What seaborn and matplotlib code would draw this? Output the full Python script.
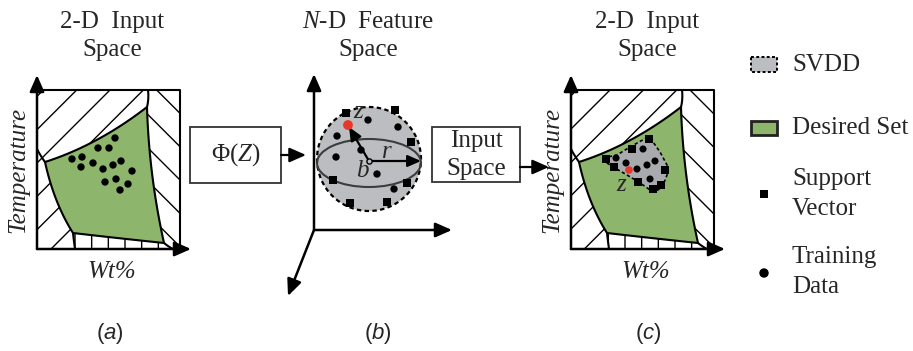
import numpy as np
import pandas as pd
import matplotlib
matplotlib.use("Agg")
import matplotlib.pyplot as plt
from matplotlib.patches import Polygon, Circle, Ellipse, Rectangle
import seaborn as sns

sns.set_theme(style="white")
plt.rcParams["font.family"] = ["Liberation Serif", "DejaVu Serif"]
plt.rcParams["mathtext.fontset"] = "custom"
plt.rcParams["mathtext.rm"] = "Liberation Serif"
plt.rcParams["mathtext.it"] = "Liberation Serif:italic"
plt.rcParams["mathtext.sf"] = "Liberation Sans:italic"
plt.rcParams["hatch.linewidth"] = 1.0

# ---- data -------------------------------------------------------------
panel_titles = [("2-D  Input", "Space"), (r"$\mathit{N}$-D  Feature", "Space"), ("2-D  Input", "Space")]
panel_tags = ["a", "b", "c"]
legend_labels = ["SVDD", "Desired Set", "Support\nVector", "Training\nData"]

# training data in the input space (panel a)
train_a_x = [72, 82, 81, 93, 98, 109, 115, 103, 113, 121, 132, 105, 116, 128, 120]
train_a_y = [159, 157, 167, 163, 148, 148, 138, 169, 165, 161, 171, 182, 179, 184, 190]

# feature space (panel b)
sv_b_x = [346, 395, 411, 407, 387, 350, 333]
sv_b_y = [113, 110, 142, 183, 202, 203, 180]
train_b_x = [368, 398, 337, 336, 361, 377, 394]
train_b_y = [120, 127, 136, 157, 150, 174, 189]
test_b = (348, 125)
centre_b = (369, 161)

# mapped back to the input space (panel c)
sv_c_x = [649, 632, 606, 614, 665, 638, 661, 653]
sv_c_y = [139, 149, 159, 167, 170, 182, 185, 189]
train_c_x = [643, 616, 626, 647, 655, 637, 650]
train_c_y = [149, 158, 163, 165, 161, 169, 179]
test_c = (629, 170)
svdd_x = [603, 617, 630, 648, 653, 660, 667, 667, 662, 653, 643, 637, 627, 615, 607]
svdd_y = [158, 155, 147, 137, 142, 152, 165, 175, 188, 192, 185, 181, 175, 168, 163]

GREEN = "#8db56b"
GREY = "#bcbdc0"
GREY_DARK = "#a9aaad"
RED = "#e8362b"

fig = plt.figure(figsize=(9.13, 3.51), dpi=100)
ax = fig.add_axes([0, 0, 1, 1])
ax.set_xlim(0, 913)
ax.set_ylim(351, 0)
ax.set_axis_off()


def qbez(p0, c, p1, n=40):
    t = np.linspace(0, 1, n)[:, None]
    p0, c, p1 = map(np.asarray, (p0, c, p1))
    return (1 - t) ** 2 * p0 + 2 * (1 - t) * t * c + t ** 2 * p1


def arrow(start, end, lw=1.8, hl=0.5, hw=0.22, ms=20):
    ax.annotate("", xy=end, xytext=start,
                arrowprops=dict(arrowstyle=f"-|>,head_length={hl},head_width={hw}",
                                lw=lw, color="black", mutation_scale=ms,
                                shrinkA=0, shrinkB=0), zorder=6)


def dots(xs, ys, marker, size, color="black"):
    df = pd.DataFrame({"x": xs, "y": ys})
    sns.scatterplot(data=df, x="x", y="y", marker=marker, s=size, color=color,
                    edgecolor="none", ax=ax, zorder=8, legend=False)


def input_space(dx):
    L, R, T, B = 37 + dx, 180 + dx, 90, 249
    TL, TR = (45 + dx, 162), (147 + dx, 107)
    BR, BL = (164 + dx, 243), (73 + dx, 233)
    top = qbez(TL, (98 + dx, 145), TR)
    right = qbez(TR, (149 + dx, 175), BR)
    bottom = qbez(BR, (116 + dx, 238), BL)
    left = qbez(BL, (54 + dx, 203), TL)
    top_ext = qbez(TR, (149 + dx, 99), (148 + dx, T))
    left_ext = qbez(TL, (40 + dx, 155), (L, 149))
    bot_ext = qbez(BL, (74 + dx, 242), (75 + dx, B))
    br_ext = qbez(BR, (169 + dx, 247), (173 + dx, B))

    regions = [
        (np.vstack([[(L, T)], top_ext[::-1], top[::-1], left_ext]), "/"),
        (np.vstack([[(148 + dx, T), (R, T), (R, B)], br_ext[::-1], right[::-1], top_ext]), "\\"),
        (np.vstack([bot_ext[::-1], left[::-1], left_ext, [(L, B)]]), "/"),
        (np.vstack([[(75 + dx, B), (173 + dx, B)], br_ext[::-1], bottom, bot_ext]), "|"),
    ]
    for pts, hatch in regions:
        ax.add_patch(Polygon(pts, closed=True, facecolor="white", edgecolor="black",
                             lw=0, hatch=hatch, zorder=1))
    green = np.vstack([top, right, bottom, left])
    ax.add_patch(Polygon(green, closed=True, facecolor=GREEN, edgecolor="black",
                         lw=1.5, zorder=2))
    for seg in (top_ext, left_ext, bot_ext, br_ext):
        ax.plot(seg[:, 0], seg[:, 1], color="black", lw=1.5, zorder=3)
    ax.plot([L, R, R], [T, T, B], color="black", lw=1.5, zorder=4)
    arrow((L, B), (L, 75))
    arrow((L, B), (R + 11, B))
    ax.text(18 + dx, 170, "Temperature", rotation=90, ha="center", va="center",
            fontsize=18, style="italic")
    ax.text(112 + dx, 272, "Wt%", ha="center", va="center", fontsize=18, style="italic")


# ---- panel (a) --------------------------------------------------------
input_space(0)
dots(train_a_x, train_a_y, "o", 28)

# ---- panel (b) --------------------------------------------------------
ax.add_patch(Rectangle((190, 127), 91, 56, facecolor="white", edgecolor="#333333", lw=1.3, zorder=3))
ax.text(235.5, 155, r"$\mathrm{\Phi(}\mathit{Z}\mathrm{)}$", ha="center", va="center", fontsize=18)
arrow((281, 155), (306, 155), lw=1.6)

arrow((314, 230), (314, 74))
arrow((314, 230), (452, 230))
arrow((314, 230), (288, 296))

ax.add_patch(Circle((369, 159), 52, facecolor=GREY, edgecolor="black", lw=1.6,
                    linestyle=(0, (2, 1.5)), zorder=3))
ax.add_patch(Ellipse((369, 163), 104, 48, facecolor="none", edgecolor="#3c3c3c", lw=1.5, zorder=4))
dots(sv_b_x, sv_b_y, "s", 36)
dots(train_b_x, train_b_y, "o", 28)
arrow(centre_b, (421, centre_b[1]), lw=1.6, ms=16)
arrow(centre_b, (test_b[0] + 1, test_b[1] + 2), lw=1.6, ms=16)
ax.scatter(*centre_b, s=14, facecolor=GREY, edgecolor="black", lw=1, zorder=9)
ax.scatter(*test_b, s=50, color=RED, edgecolor="none", zorder=10)
ax.text(387, 152, "r", ha="center", va="center", fontsize=18, style="italic", zorder=9)
ax.text(362, 171, "b", ha="center", va="center", fontsize=18, style="italic", zorder=9)
ax.text(358, 112, "z", ha="center", va="center", fontsize=18, style="italic", zorder=9)

ax.add_patch(Rectangle((432, 127), 88, 55, facecolor="white", edgecolor="#333333", lw=1.3, zorder=3))
ax.text(476, 141, "Input", ha="center", va="center", fontsize=18, zorder=4)
ax.text(476, 169, "Space", ha="center", va="center", fontsize=18, zorder=4)
arrow((520, 167), (549, 167), lw=1.6)

# ---- panel (c) --------------------------------------------------------
input_space(534)
ax.add_patch(Polygon(np.column_stack([svdd_x, svdd_y]), closed=True, facecolor=GREY_DARK,
                     edgecolor="black", lw=1.2, linestyle=(0, (2, 1.5)), zorder=5))
dots(sv_c_x, sv_c_y, "s", 36)
dots(train_c_x, train_c_y, "o", 26)
ax.scatter(*test_c, s=30, color=RED, edgecolor="none", zorder=10)
ax.text(621, 185, "z", ha="center", va="center", fontsize=18, style="italic", zorder=9)

# ---- titles and tags --------------------------------------------------
for cx, (l1, l2) in zip([112, 368, 647], panel_titles):
    ax.text(cx, 22, l1, ha="center", va="center", fontsize=18)
    ax.text(cx, 50, l2, ha="center", va="center", fontsize=18)
for cx, tag in zip([110, 378, 648], panel_tags):
    ax.text(cx, 333, rf"($\mathsf{{{tag}}}$)", ha="center", va="center", fontsize=16,
            family=["Liberation Sans", "DejaVu Sans"])

# ---- legend -----------------------------------------------------------
ax.add_patch(Rectangle((751, 57), 26, 15, facecolor=GREY, edgecolor="black", lw=1.4,
                       linestyle=(0, (1.5, 1.2)), zorder=3))
ax.add_patch(Rectangle((751, 121), 26, 14, facecolor=GREEN, edgecolor="#222222", lw=2, zorder=3))
dots([764], [194], "s", 36)
dots([764], [273], "o", 46)
for ly, lab in zip([65, 128, 194, 272], legend_labels):
    ax.text(792, ly, lab, ha="left", va="center", fontsize=18, linespacing=1.45)

fig.savefig("out.png", dpi=100)
